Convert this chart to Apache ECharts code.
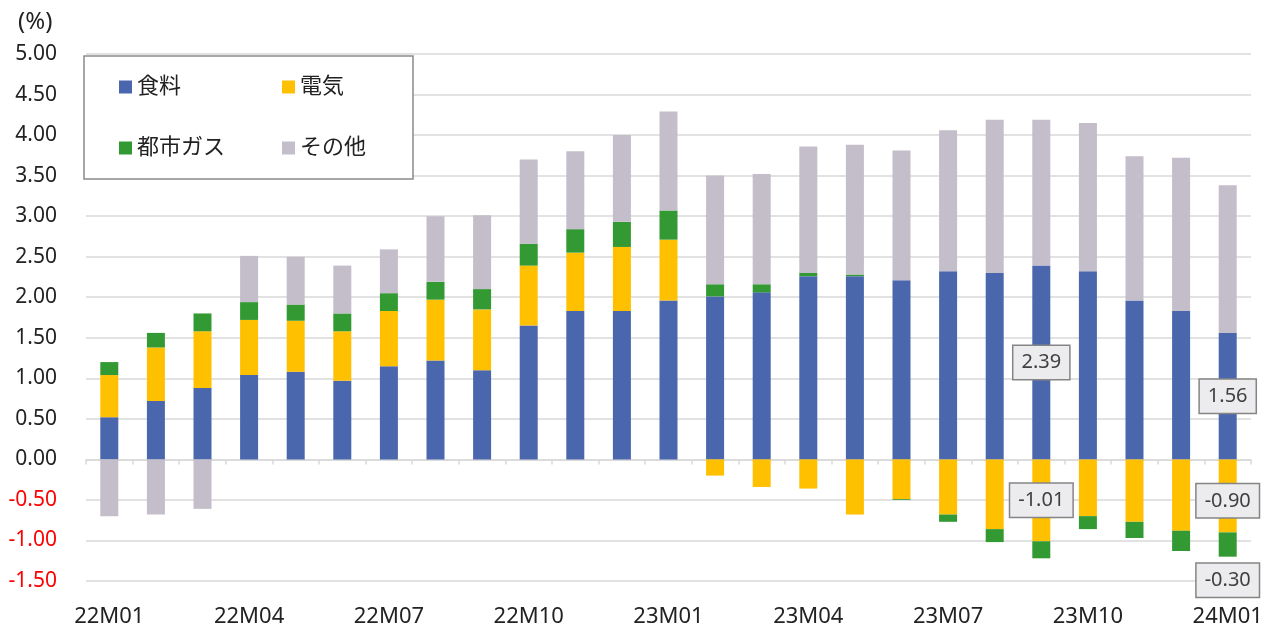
<!DOCTYPE html>
<html>
<head>
<meta charset="utf-8">
<script src="https://cdn.jsdelivr.net/npm/echarts@6/dist/echarts.min.js"></script>
<style>
  html, body { margin: 0; padding: 0; background: #fff; }
  #chart { width: 1271px; height: 628px; }
</style>
</head>
<body>
<div id="chart"></div>
<script>
const months = ['22M01', '22M02', '22M03', '22M04', '22M05', '22M06', '22M07', '22M08', '22M09', '22M10', '22M11', '22M12',
  '23M01', '23M02', '23M03', '23M04', '23M05', '23M06', '23M07', '23M08', '23M09', '23M10', '23M11', '23M12', '24M01']
const seriesNames = ['食料', '電気', '都市ガス', 'その他']
const food = [0.52, 0.72, 0.88, 1.04, 1.08, 0.97, 1.15, 1.22, 1.10, 1.65, 1.83, 1.83, 1.96, 2.01, 2.06, 2.26, 2.26, 2.21, 2.32, 2.30, 2.39, 2.32, 1.96, 1.83, 1.56]
const elec = [0.52, 0.66, 0.70, 0.68, 0.63, 0.61, 0.68, 0.75, 0.75, 0.74, 0.72, 0.79, 0.75, -0.20, -0.34, -0.36, -0.68, -0.49, -0.68, -0.86, -1.01, -0.70, -0.77, -0.88, -0.90]
const gas = [0.16, 0.18, 0.22, 0.22, 0.20, 0.22, 0.22, 0.22, 0.25, 0.27, 0.29, 0.31, 0.36, 0.15, 0.10, 0.04, 0.02, -0.01, -0.09, -0.16, -0.21, -0.16, -0.20, -0.25, -0.30]
const other = [-0.70, -0.68, -0.61, 0.57, 0.59, 0.59, 0.54, 0.81, 0.91, 1.04, 0.96, 1.07, 1.22, 1.34, 1.36, 1.56, 1.60, 1.60, 1.74, 1.89, 1.80, 1.83, 1.78, 1.89, 1.82]
// which points get a value box
const foodLabels = [20, 24]
const elecLabels = [20, 24]
const gasLabels = [24]

const colors = ['#4A67AD', '#FFC000', '#339933', '#C4BDCA']
const fontFamily = '"Noto Sans", "Noto Sans CJK JP", sans-serif'

const boxLabel = {
  show: true,
  formatter: p => p.value.toFixed(2),
  fontFamily: fontFamily,
  fontSize: 20,
  color: '#404040',
  backgroundColor: '#ECEBED',
  borderColor: '#858585',
  borderWidth: 1.5,
  padding: [7, 8, 6, 8]
}

function withLabels(values, idx, position, distance, offsets) {
  return values.map((v, i) => {
    if (!idx.includes(i)) return v
    const extra = { position: position, distance: distance || 5 }
    if (offsets && offsets[i]) extra.offset = offsets[i]
    return { value: v, label: Object.assign({}, boxLabel, extra) }
  })
}

const chartInstance = echarts.init(document.getElementById('chart'))

const barSeries = [
  withLabels(food, foodLabels, 'inside'),
  withLabels(elec, elecLabels, 'inside', 5, { 24: [0, 5] }),
  withLabels(gas, gasLabels, 'bottom', 7),
  other
].map((data, i) => ({
  name: seriesNames[i],
  type: 'bar',
  stack: 'total',
  barWidth: 18,
  itemStyle: { color: colors[i] },
  data: data
}))

const option = {
  animation: false,
  textStyle: { fontFamily: fontFamily },
  title: {
    text: '(%)',
    left: 13,
    top: 5,
    textStyle: { fontSize: 24, fontWeight: 'normal', color: '#222', fontFamily: fontFamily }
  },
  graphic: [{
    type: 'rect',
    z: 3,
    shape: { x: 84, y: 56, width: 329, height: 123 },
    style: { fill: '#fff', stroke: '#8a8a8a', lineWidth: 1.5 }
  }],
  legend: {
    data: seriesNames,
    left: 119,
    top: 69,
    width: 320,
    padding: 0,
    itemWidth: 13,
    itemHeight: 13,
    itemGap: 25,
    icon: 'rect',
    textStyle: { fontSize: 22, color: '#222', width: 120, lineHeight: 36, fontFamily: fontFamily }
  },
  grid: { left: 86, right: 20, top: 54, bottom: 45 },
  xAxis: [{
    type: 'category',
    data: months,
    axisLine: { onZero: true, lineStyle: { color: '#D9D9D9', width: 1.5 } },
    axisTick: { show: true, interval: 0, length: 5, lineStyle: { color: '#D9D9D9', width: 1.5 } },
    axisLabel: { show: false }
  }, {
    type: 'category',
    data: months,
    position: 'bottom',
    axisLine: { show: false, onZero: false },
    axisTick: { show: false },
    axisLabel: { interval: 2, fontSize: 22, color: '#222', margin: 25, fontFamily: fontFamily }
  }],
  yAxis: {
    type: 'value',
    min: -1.5,
    max: 5,
    interval: 0.5,
    axisLine: { show: false },
    axisTick: { show: false },
    splitLine: { lineStyle: { color: '#D9D9D9', width: 1.5 } },
    axisLabel: {
      fontSize: 21,
      margin: 29,
      fontFamily: fontFamily,
      formatter: v => v.toFixed(2),
      color: v => (v < 0 ? '#FF0000' : '#222')
    }
  },
  series: barSeries
}

chartInstance.setOption(option)
</script>
</body>
</html>
